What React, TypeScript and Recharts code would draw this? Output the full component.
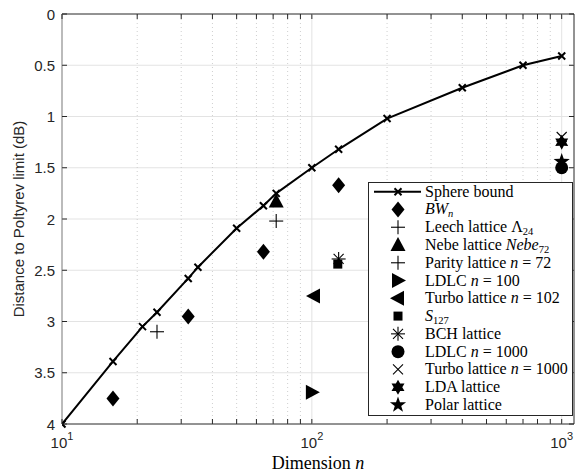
import React from 'react';
import {
  ScatterChart,
  Scatter,
  XAxis,
  YAxis,
  ReferenceLine,
  ReferenceArea,
  Legend,
} from 'recharts';

// dimension n vs distance to Poltyrev limit (dB)
const sphereN = [10, 16, 21, 24, 32, 35, 50, 64, 72, 100, 128, 200, 400, 700, 1000];
const sphereDb = [4.0, 3.39, 3.05, 2.91, 2.58, 2.47, 2.09, 1.87, 1.75, 1.5, 1.32, 1.02, 0.72, 0.5, 0.41];

const bwN = [16, 32, 64, 128];
const bwDb = [3.75, 2.95, 2.32, 1.67];

const leechN = [24];
const leechDb = [3.1];
const nebeN = [72];
const nebeDb = [1.83];
const parityN = [72];
const parityDb = [2.02];
const ldlc100N = [100];
const ldlc100Db = [3.69];
const turbo102N = [102];
const turbo102Db = [2.75];
const s127N = [127];
const s127Db = [2.44];
const bchN = [128];
const bchDb = [2.39];
const ldlc1000N = [1000];
const ldlc1000Db = [1.5];
const turbo1000N = [1000];
const turbo1000Db = [1.2];
const ldaN = [1000];
const ldaDb = [1.25];
const polarN = [1000];
const polarDb = [1.44];

const xTicks = [10, 20, 30, 40, 50, 60, 70, 80, 90, 100, 200, 300, 400, 500, 600, 700, 800, 900, 1000];
const xMajor = [10, 100, 1000];
const yTicks = [0, 0.5, 1, 1.5, 2, 2.5, 3, 3.5, 4];

const X_MAX = 1120;
const PL = 62;
const PR = 574;
const PT = 14;
const PB = 424;
const FRAME = '#262626';
const SANS = "'Liberation Sans', Arial, sans-serif";
const SERIF = "'Liberation Serif', serif";

const zip = (ns: number[], ds: number[]) => ns.map((n, i) => ({ n, db: ds[i] }));

type Kind =
  | 'x' | 'diamond' | 'plus' | 'triUp' | 'triRight' | 'triLeft' | 'square'
  | 'asterisk' | 'circle' | 'cross' | 'hexagram' | 'star';

const starPts = (cx: number, cy: number, ro: number, ri: number, k: number) => {
  const pts: string[] = [];
  for (let i = 0; i < 2 * k; i++) {
    const r = i % 2 === 0 ? ro : ri;
    const a = -Math.PI / 2 + (i * Math.PI) / k;
    pts.push(`${cx + r * Math.cos(a)},${cy + r * Math.sin(a)}`);
  }
  return pts.join(' ');
};

const Marker = ({ kind, cx, cy }: { kind: Kind; cx: number; cy: number }) => {
  const k = '#000';
  switch (kind) {
    case 'x':
      return (
        <g stroke={k} strokeWidth={2}>
          <line x1={cx - 3.5} y1={cy - 3.5} x2={cx + 3.5} y2={cy + 3.5} />
          <line x1={cx - 3.5} y1={cy + 3.5} x2={cx + 3.5} y2={cy - 3.5} />
        </g>
      );
    case 'diamond':
      return <polygon points={`${cx},${cy - 8} ${cx + 6.5},${cy} ${cx},${cy + 8} ${cx - 6.5},${cy}`} fill={k} />;
    case 'plus':
      return (
        <g stroke={k} strokeWidth={1.1}>
          <line x1={cx - 7} y1={cy} x2={cx + 7} y2={cy} />
          <line x1={cx} y1={cy - 7} x2={cx} y2={cy + 7} />
        </g>
      );
    case 'triUp':
      return <polygon points={`${cx},${cy - 8} ${cx + 7.5},${cy + 6} ${cx - 7.5},${cy + 6}`} fill={k} />;
    case 'triRight':
      return <polygon points={`${cx + 8},${cy} ${cx - 6},${cy - 7.5} ${cx - 6},${cy + 7.5}`} fill={k} />;
    case 'triLeft':
      return <polygon points={`${cx - 8},${cy} ${cx + 6},${cy - 7.5} ${cx + 6},${cy + 7.5}`} fill={k} />;
    case 'square':
      return <rect x={cx - 4.5} y={cy - 4.5} width={9} height={9} fill={k} />;
    case 'asterisk':
      return (
        <g stroke={k} strokeWidth={1.1}>
          <line x1={cx - 7} y1={cy} x2={cx + 7} y2={cy} />
          <line x1={cx} y1={cy - 7} x2={cx} y2={cy + 7} />
          <line x1={cx - 5} y1={cy - 5} x2={cx + 5} y2={cy + 5} />
          <line x1={cx - 5} y1={cy + 5} x2={cx + 5} y2={cy - 5} />
        </g>
      );
    case 'circle':
      return <circle cx={cx} cy={cy} r={6.5} fill={k} />;
    case 'cross':
      return (
        <g stroke={k} strokeWidth={1.1}>
          <line x1={cx - 5} y1={cy - 5} x2={cx + 5} y2={cy + 5} />
          <line x1={cx - 5} y1={cy + 5} x2={cx + 5} y2={cy - 5} />
        </g>
      );
    case 'hexagram':
      return <polygon points={starPts(cx, cy, 7.5, 4.3, 6)} fill={k} />;
    case 'star':
      return <polygon points={starPts(cx, cy, 8.5, 3.4, 5)} fill={k} />;
    default:
      return null;
  }
};

const shapeOf = (kind: Kind) => (props: any) => <Marker kind={kind} cx={props.cx} cy={props.cy} />;

const sub = (s: string) => (
  <tspan fontSize={10.5} dy={3}>{s}</tspan>
);

const legendRows: { kind: Kind; line?: boolean; label: React.ReactNode }[] = [
  { kind: 'x', line: true, label: 'Sphere bound' },
  { kind: 'diamond', label: <><tspan fontStyle="italic">BW</tspan><tspan fontStyle="italic" fontSize={10.5} dy={3}>n</tspan></> },
  { kind: 'plus', label: <>Leech lattice Λ{sub('24')}</> },
  { kind: 'triUp', label: <>Nebe lattice <tspan fontStyle="italic">Nebe</tspan>{sub('72')}</> },
  { kind: 'plus', label: <>Parity lattice <tspan fontStyle="italic">n</tspan> = 72</> },
  { kind: 'triRight', label: <>LDLC <tspan fontStyle="italic">n</tspan> = 100</> },
  { kind: 'triLeft', label: <>Turbo lattice <tspan fontStyle="italic">n</tspan> = 102</> },
  { kind: 'square', label: <><tspan fontStyle="italic">S</tspan>{sub('127')}</> },
  { kind: 'asterisk', label: 'BCH lattice' },
  { kind: 'circle', label: <>LDLC <tspan fontStyle="italic">n</tspan> = 1000</> },
  { kind: 'cross', label: <>Turbo lattice <tspan fontStyle="italic">n</tspan> = 1000</> },
  { kind: 'hexagram', label: 'LDA lattice' },
  { kind: 'star', label: 'Polar lattice' },
];

const LegendBox = () => {
  const w = 205;
  const h = 234;
  const rowH = 17.77;
  return (
    <svg width={w} height={h} style={{ display: 'block' }}>
      <rect x={0.5} y={0.5} width={w - 1} height={h - 1} fill="#fff" stroke={FRAME} strokeWidth={1} />
      {legendRows.map((r, i) => {
        const cy = 9.7 + i * rowH;
        return (
          <g key={i}>
            {r.line && <line x1={6} y1={cy} x2={53} y2={cy} stroke="#000" strokeWidth={2} />}
            <Marker kind={r.kind} cx={30} cy={cy} />
            <text x={57} y={cy + 5} fontFamily={SERIF} fontSize={16} fill="#000">
              {r.label}
            </text>
          </g>
        );
      })}
    </svg>
  );
};

const XTick = (props: any) => {
  const { x, payload } = props;
  const v = payload.value as number;
  const major = xMajor.includes(v);
  const exp = Math.round(Math.log10(v));
  return (
    <g>
      <line x1={x} y1={PB} x2={x} y2={PB - 5} stroke={FRAME} />
      <line x1={x} y1={PT} x2={x} y2={PT + 5} stroke={FRAME} />
      {major && (
        <text x={x} y={PB + 24} textAnchor="middle" fontFamily={SANS} fontSize={15} fill="#262626">
          10<tspan dy={-8} fontSize={11}>{exp}</tspan>
        </text>
      )}
    </g>
  );
};

const YTick = (props: any) => {
  const { y, payload } = props;
  const v = payload.value as number;
  return (
    <g>
      <line x1={PL} y1={y} x2={PL + 5} y2={y} stroke={FRAME} />
      <line x1={PR} y1={y} x2={PR - 5} y2={y} stroke={FRAME} />
      <text x={PL - 7} y={y + 5.5} textAnchor="end" fontFamily={SANS} fontSize={15} fill="#262626">
        {String(v)}
      </text>
    </g>
  );
};

const XLabel = (props: any) => {
  const vb = props.viewBox || {};
  const cx = (vb.x ?? PL) + (vb.width ?? PR - PL) / 2;
  return (
    <text x={cx} y={469} textAnchor="middle" fontFamily={SERIF} fontSize={18} fill="#000">
      Dimension <tspan fontStyle="italic">n</tspan>
    </text>
  );
};

const YLabel = (props: any) => {
  const vb = props.viewBox || {};
  const cy = (vb.y ?? PT) + (vb.height ?? PB - PT) / 2;
  return (
    <text
      x={24}
      y={cy}
      transform={`rotate(-90, 24, ${cy})`}
      textAnchor="middle"
      fontFamily={SANS}
      fontSize={15}
      fill="#262626"
    >
      Distance to Poltyrev limit (dB)
    </text>
  );
};

const series: { data: { n: number; db: number }[]; kind: Kind }[] = [
  { data: zip(bwN, bwDb), kind: 'diamond' },
  { data: zip(leechN, leechDb), kind: 'plus' },
  { data: zip(nebeN, nebeDb), kind: 'triUp' },
  { data: zip(parityN, parityDb), kind: 'plus' },
  { data: zip(ldlc100N, ldlc100Db), kind: 'triRight' },
  { data: zip(turbo102N, turbo102Db), kind: 'triLeft' },
  { data: zip(s127N, s127Db), kind: 'square' },
  { data: zip(bchN, bchDb), kind: 'asterisk' },
  { data: zip(ldlc1000N, ldlc1000Db), kind: 'circle' },
  { data: zip(turbo1000N, turbo1000Db), kind: 'cross' },
  { data: zip(ldaN, ldaDb), kind: 'hexagram' },
  { data: zip(polarN, polarDb), kind: 'star' },
];

export default function App() {
  return (
    <div style={{ position: 'absolute', left: 0, top: 0, width: 583, height: 473, background: '#fff' }}>
      <ScatterChart width={583} height={473} margin={{ top: PT, right: 583 - PR, bottom: 0, left: 0 }}>
        <XAxis
          type="number"
          dataKey="n"
          scale="log"
          domain={[10, X_MAX]}
          allowDataOverflow
          ticks={xTicks}
          interval={0}
          height={473 - PB}
          tick={<XTick />}
          tickLine={false}
          axisLine={false}
          label={<XLabel />}
        />
        <YAxis
          type="number"
          dataKey="db"
          domain={[0, 4]}
          reversed
          ticks={yTicks}
          interval={0}
          width={PL}
          tick={<YTick />}
          tickLine={false}
          axisLine={false}
          label={<YLabel />}
        />
        {yTicks.slice(1, -1).map((v) => (
          <ReferenceLine key={'h' + v} y={v} stroke="#e3e3e3" strokeWidth={1} />
        ))}
        {xTicks.map((v) => (
          <ReferenceLine
            key={'v' + v}
            x={v}
            stroke={xMajor.includes(v) ? '#e3e3e3' : '#cfcfcf'}
            strokeDasharray={xMajor.includes(v) ? undefined : '1 3'}
            strokeWidth={1}
          />
        ))}
        <Scatter
          data={zip(sphereN, sphereDb)}
          line={{ stroke: '#000', strokeWidth: 2 }}
          shape={shapeOf('x')}
          isAnimationActive={false}
        />
        {series.map((s, i) => (
          <Scatter key={i} data={s.data} shape={shapeOf(s.kind)} isAnimationActive={false} />
        ))}
        <ReferenceArea x1={10} x2={X_MAX} y1={0} y2={4} fill="none" stroke={FRAME} strokeWidth={1} ifOverflow="visible" />
        <Legend
          layout="horizontal"
          align="center"
          verticalAlign="middle"
          content={() => <LegendBox />}
          wrapperStyle={{ position: 'absolute', left: 368, top: 182, width: 205, height: 234 }}
        />
      </ScatterChart>
    </div>
  );
}
